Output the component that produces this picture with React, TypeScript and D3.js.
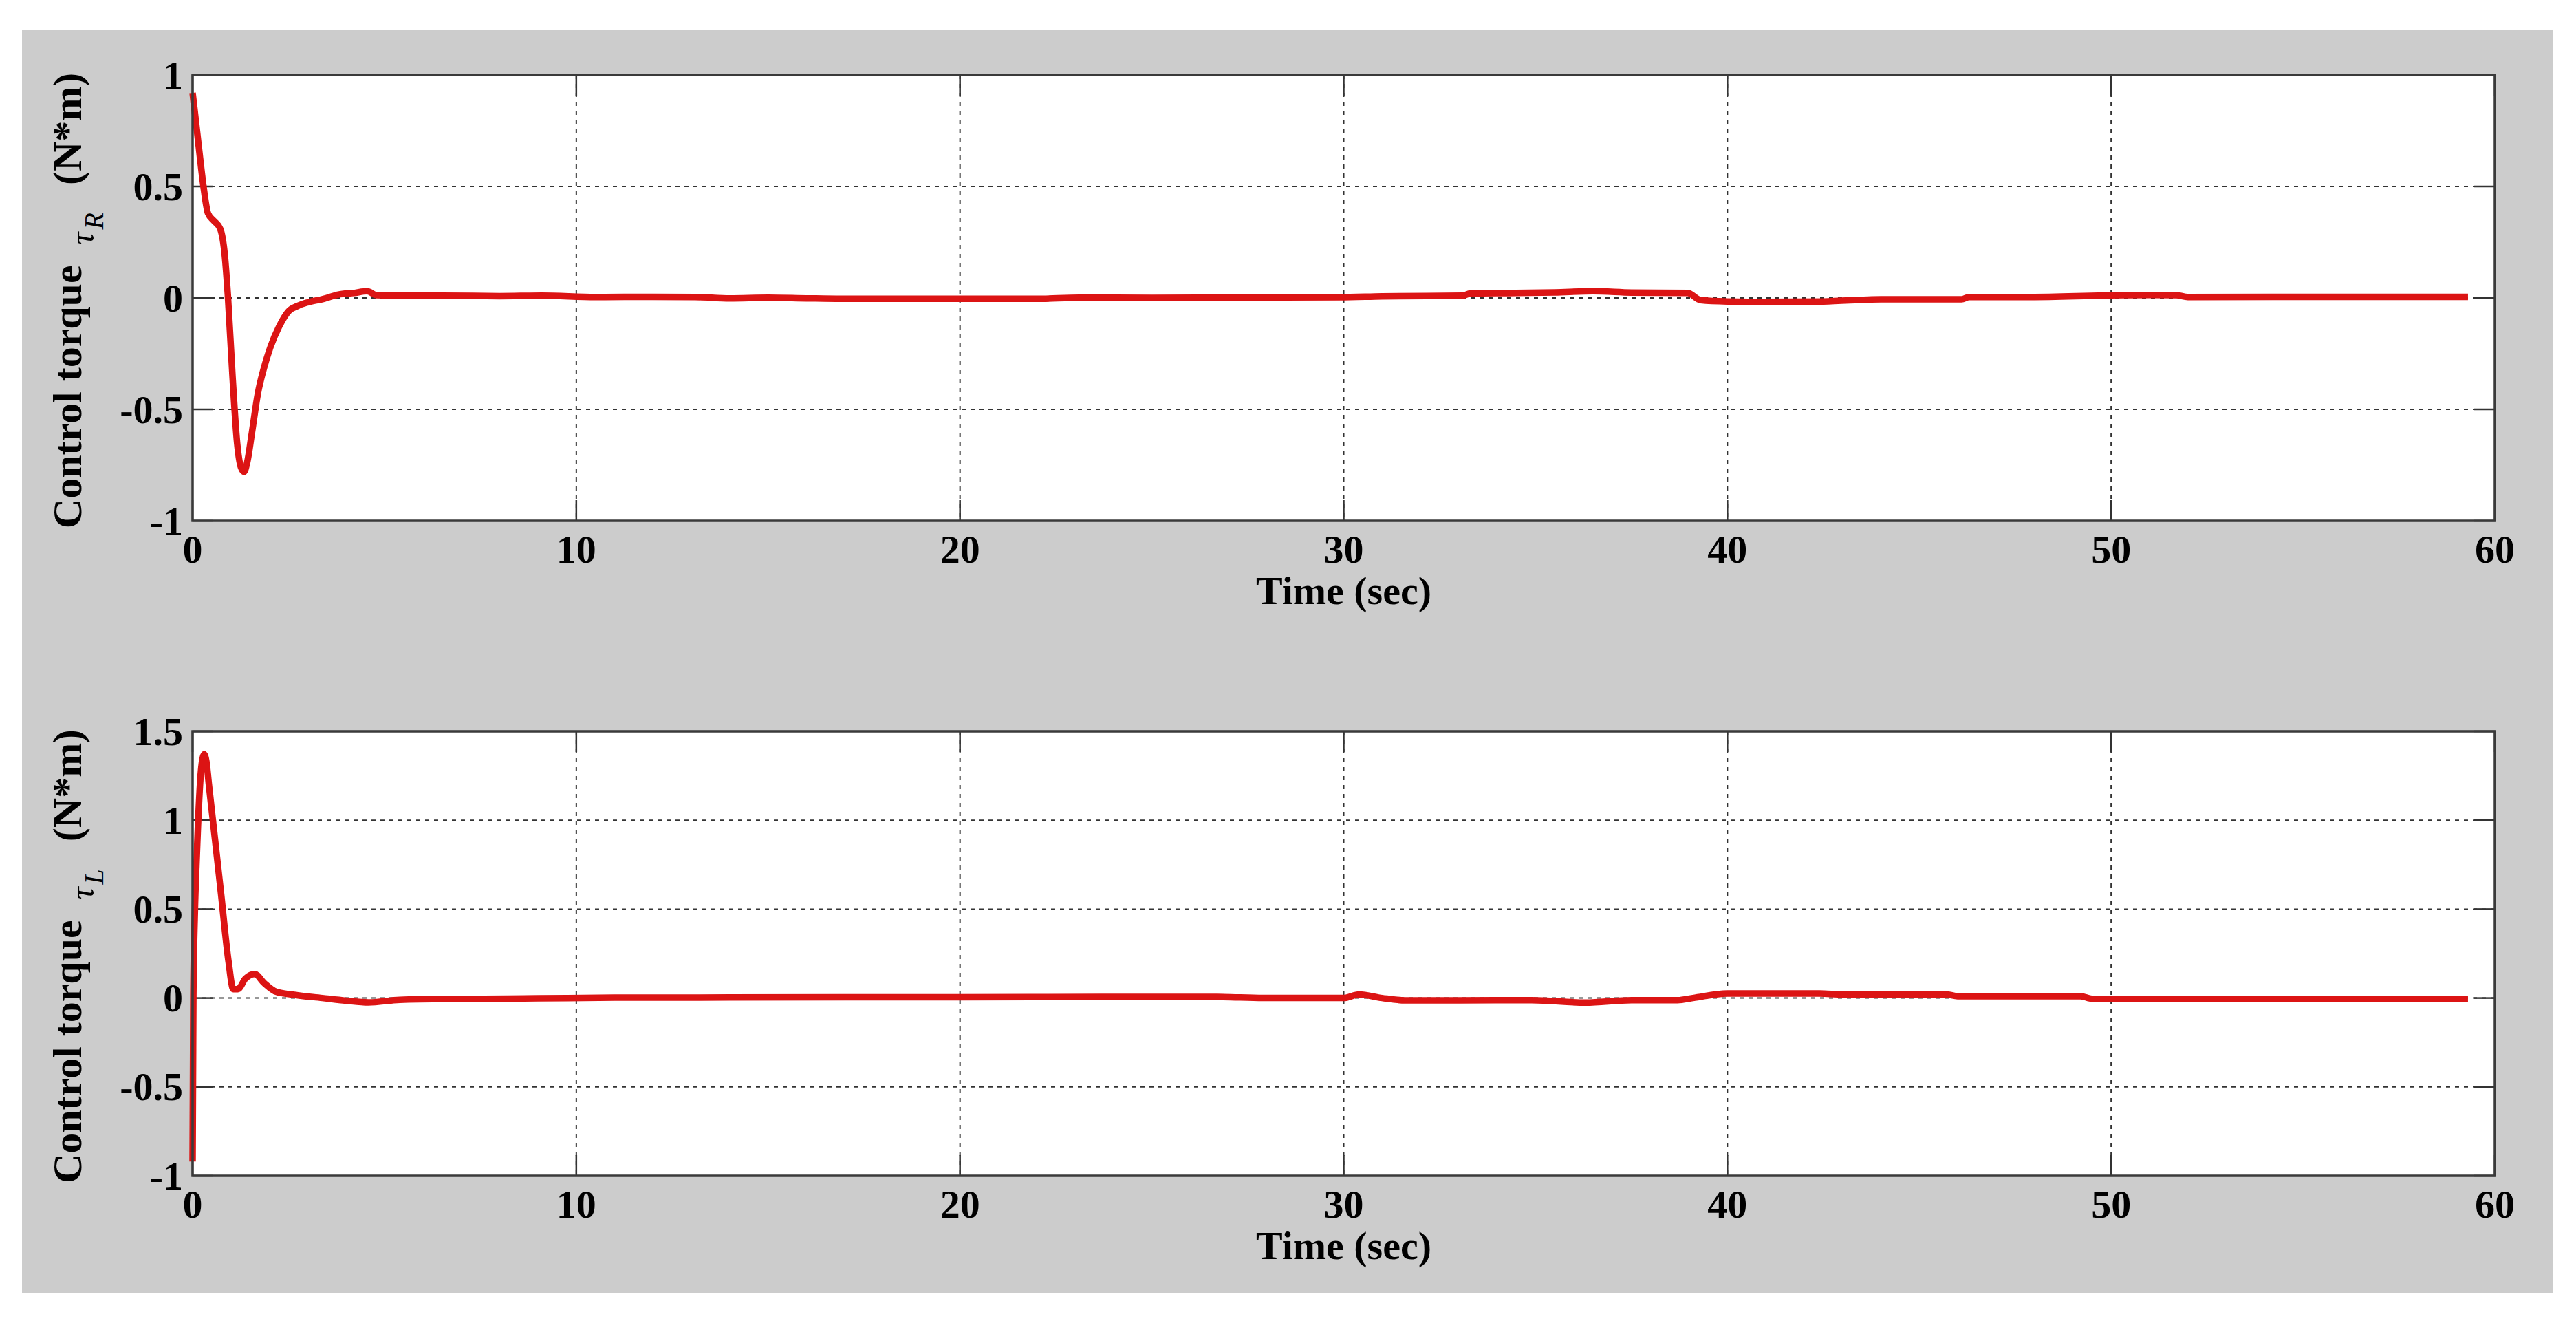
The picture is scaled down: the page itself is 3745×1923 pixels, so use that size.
import React from "react";
import * as d3 from "d3";

// ---- data ----
const timeTicks = [0, 10, 20, 30, 40, 50, 60];
const yTicksR = [-1, -0.5, 0, 0.5, 1];
const yTicksL = [-1, -0.5, 0, 0.5, 1, 1.5];

const timeR = [0, 0.08, 0.16, 0.28, 0.4, 0.56, 0.72, 0.84, 0.92, 1.04, 1.16, 1.26, 1.34, 1.42, 1.55, 1.7, 1.85, 2.03, 2.25, 2.5, 2.75, 3.0, 3.4, 3.8, 4.2, 4.55, 4.8, 5.5, 6.5, 8, 9.1, 10.5, 12, 13.1, 14, 15, 16, 16.9, 18, 20, 22, 23.1, 25, 27, 29.9, 31, 33.1, 33.3, 34.5, 35.5, 36.5, 37.5, 38.96, 39.3, 40, 41, 42.5, 44, 46.1, 46.3, 48, 50.3, 51, 51.7, 52, 55, 57, 59.3];
const torqueR = [0.92, 0.8, 0.68, 0.505, 0.38, 0.345, 0.31, 0.19, 0.01, -0.35, -0.65, -0.76, -0.78, -0.74, -0.6, -0.43, -0.32, -0.22, -0.13, -0.06, -0.035, -0.02, -0.005, 0.015, 0.022, 0.03, 0.012, 0.01, 0.01, 0.008, 0.01, 0.004, 0.005, 0.004, -0.002, 0.001, -0.002, -0.004, -0.004, -0.004, -0.004, 0.001, 0.0, 0.002, 0.003, 0.007, 0.01, 0.02, 0.022, 0.025, 0.03, 0.024, 0.022, -0.01, -0.016, -0.018, -0.016, -0.006, -0.006, 0.004, 0.004, 0.012, 0.013, 0.012, 0.004, 0.005, 0.005, 0.005];

const timeL = [0, 0.02, 0.06, 0.1, 0.14, 0.22, 0.3, 0.36, 0.42, 0.58, 0.74, 0.94, 1.06, 1.18, 1.38, 1.62, 1.86, 2.18, 2.58, 3.38, 4.0, 4.58, 5.4, 7, 9, 11, 14, 17, 20, 23.7, 26.7, 27.9, 30, 30.4, 31.0, 31.6, 33, 34.9, 36.3, 37.5, 38.7, 39.1, 40, 42.4, 43, 45.7, 46, 49.2, 49.5, 55, 59.3];
const torqueL = [-0.92, 0.01, 0.49, 0.75, 0.97, 1.28, 1.37, 1.33, 1.21, 0.9, 0.59, 0.2, 0.05, 0.05, 0.11, 0.135, 0.085, 0.035, 0.02, 0.0, -0.015, -0.025, -0.01, -0.005, -0.002, 0.002, 0.003, 0.004, 0.004, 0.006, 0.006, 0.0, 0.0, 0.02, 0.0, -0.013, -0.013, -0.012, -0.026, -0.012, -0.012, 0.0, 0.026, 0.026, 0.02, 0.02, 0.01, 0.01, -0.004, -0.004, -0.004];

const W = 3745;
const H = 1923;
const FONT = "'Liberation Serif', 'Times New Roman', serif";
const RED = "#dc1414";

type PanelProps = {
  top: number;
  bottom: number;
  yDomain: [number, number];
  yTicks: number[];
  times: number[];
  values: number[];
  sub: string;
};

const LEFT = 280;
const RIGHT = 3627;
const TICK = 30;
const FS = 58;

function Panel({ top, bottom, yDomain, yTicks, times, values, sub }: PanelProps) {
  const x = d3.scaleLinear().domain([0, 60]).range([LEFT, RIGHT]);
  const y = d3.scaleLinear().domain(yDomain).range([bottom, top]);
  const pts = times.map((t, i) => [t, values[i]] as [number, number]);
  const line = d3
    .line<[number, number]>()
    .x((d) => x(d[0]))
    .y((d) => y(d[1]))
    .curve(d3.curveMonotoneX);
  const cy = (top + bottom) / 2 + 4;
  return (
    <g>
      <rect x={LEFT} y={top} width={RIGHT - LEFT} height={bottom - top} fill="#ffffff" />
      {/* grid */}
      {timeTicks
        .filter((t) => t > 0 && t < 60)
        .map((t) => (
          <line key={"gx" + t} x1={x(t)} x2={x(t)} y1={top} y2={bottom} stroke="#333" strokeWidth={2} strokeDasharray="6 7" />
        ))}
      {yTicks
        .filter((v) => v > yDomain[0] && v < yDomain[1])
        .map((v) => (
          <line key={"gy" + v} x1={LEFT} x2={RIGHT} y1={y(v)} y2={y(v)} stroke="#333" strokeWidth={2} strokeDasharray="6 7" />
        ))}
      {/* ticks */}
      {timeTicks.map((t) => (
        <g key={"tx" + t}>
          <line x1={x(t)} x2={x(t)} y1={bottom} y2={bottom - TICK} stroke="#333" strokeWidth={2.5} />
          <line x1={x(t)} x2={x(t)} y1={top} y2={top + TICK} stroke="#333" strokeWidth={2.5} />
        </g>
      ))}
      {yTicks.map((v) => (
        <g key={"ty" + v}>
          <line x1={LEFT} x2={LEFT + TICK} y1={y(v)} y2={y(v)} stroke="#333" strokeWidth={2.5} />
          <line x1={RIGHT} x2={RIGHT - TICK} y1={y(v)} y2={y(v)} stroke="#333" strokeWidth={2.5} />
        </g>
      ))}
      {/* data */}
      <path d={line(pts) || ""} fill="none" stroke={RED} strokeWidth={9.5} strokeLinejoin="round" strokeLinecap="butt" />
      {/* box */}
      <rect x={LEFT} y={top} width={RIGHT - LEFT} height={bottom - top} fill="none" stroke="#3a3a3a" strokeWidth={3.5} />
      {/* tick labels */}
      {timeTicks.map((t) => (
        <text key={"lx" + t} x={x(t)} y={bottom + 41} textAnchor="middle" dominantBaseline="central" fontFamily={FONT} fontWeight="bold" fontSize={FS} fill="#000">
          {String(t)}
        </text>
      ))}
      {yTicks.map((v) => (
        <text key={"ly" + v} x={LEFT - 14} y={y(v)} textAnchor="end" dominantBaseline="central" fontFamily={FONT} fontWeight="bold" fontSize={FS} fill="#000">
          {String(v)}
        </text>
      ))}
      {/* axis labels */}
      <text x={(LEFT + RIGHT) / 2} y={bottom + 121} textAnchor="middle" fontFamily={FONT} fontWeight="bold" fontSize={FS} fill="#000">
        Time (sec)
      </text>
      <text transform={`translate(118,${cy}) rotate(-90)`} textAnchor="middle" fontFamily={FONT} fontWeight="bold" fontSize={60} fill="#000">
        <tspan>Control torque</tspan>
        <tspan dx={30} dy={18} fontStyle="italic" fontWeight="normal" fontSize={50}>τ</tspan>
        <tspan dx={4} dy={14} fontStyle="italic" fontWeight="normal" fontSize={40}>{sub}</tspan>
        <tspan dx={40} dy={-32}>(N*m)</tspan>
      </text>
    </g>
  );
}

export default function App() {
  return (
    <svg width={W} height={H} viewBox={`0 0 ${W} ${H}`} style={{ position: "absolute", left: 0, top: 0, display: "block", background: "#ffffff" }}>
      <rect x={0} y={0} width={W} height={H} fill="#ffffff" />
      <rect x={32} y={44} width={3712 - 32} height={1880 - 44} fill="#cccccc" />
      <Panel top={109} bottom={757} yDomain={[-1, 1]} yTicks={yTicksR} times={timeR} values={torqueR} sub="R" />
      <Panel top={1063} bottom={1709} yDomain={[-1, 1.5]} yTicks={yTicksL} times={timeL} values={torqueL} sub="L" />
    </svg>
  );
}
